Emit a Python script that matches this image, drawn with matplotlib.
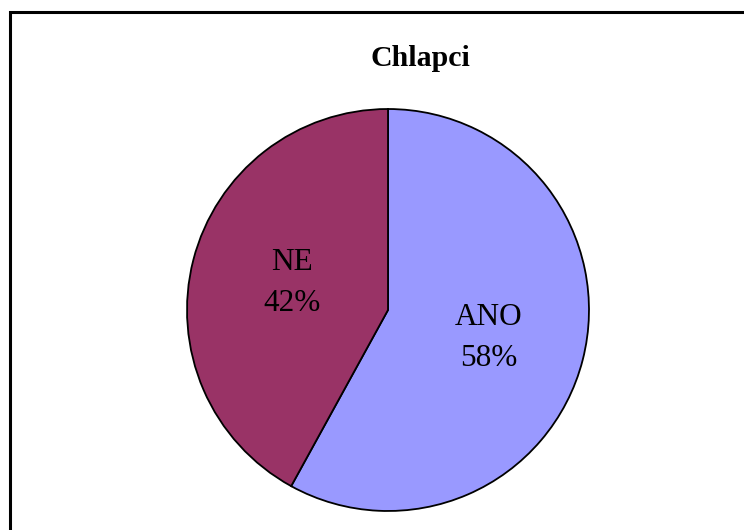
import matplotlib.pyplot as plt
from matplotlib.patches import Rectangle

# Datos del gráfico
kategorie = ["ANO", "NE"]
podily = [58, 42]
barvy = ["#9999FF", "#993366"]

plt.rcParams['font.family'] = ['Liberation Serif', 'DejaVu Serif']

W, H = 744, 530
fig = plt.figure(figsize=(W / 100, H / 100), dpi=100)

# Marco del gráfico (se sale por la derecha y abajo)
fig.patches.append(Rectangle((10 / W, -0.05), 1.1, 1 - 12 / H + 0.05,
                             transform=fig.transFigure, fill=False,
                             edgecolor='black', linewidth=2.2))

cx, cy, r = 388, 310, 203
ax = fig.add_axes([(cx - r) / W, (H - cy - r) / H, 2 * r / W, 2 * r / H])
wedges, _ = ax.pie(podily, colors=barvy, startangle=90, counterclock=False,
                   radius=1, wedgeprops=dict(edgecolor='black', linewidth=1.3))
ax.set_xlim(-1.01, 1.01)
ax.set_ylim(-1.01, 1.01)
ax.set_aspect('equal')
ax.axis('off')

# Etiquetas dentro de los sectores
pozice = [((490 - cx) / r, (cy - 338) / r), ((291 - cx) / r, (cy - 283) / r)]
for k, p, (x, y) in zip(kategorie, podily, pozice):
    ax.text(x, y, f"{k}\n{p}%", ha='center', va='center', fontsize=22.5,
            linespacing=1.55)

fig.text(420 / W, 1 - 58 / H, "Chlapci", ha='center', va='center',
         fontsize=21.5, fontweight='bold')

plt.savefig("out.png", dpi=100)
